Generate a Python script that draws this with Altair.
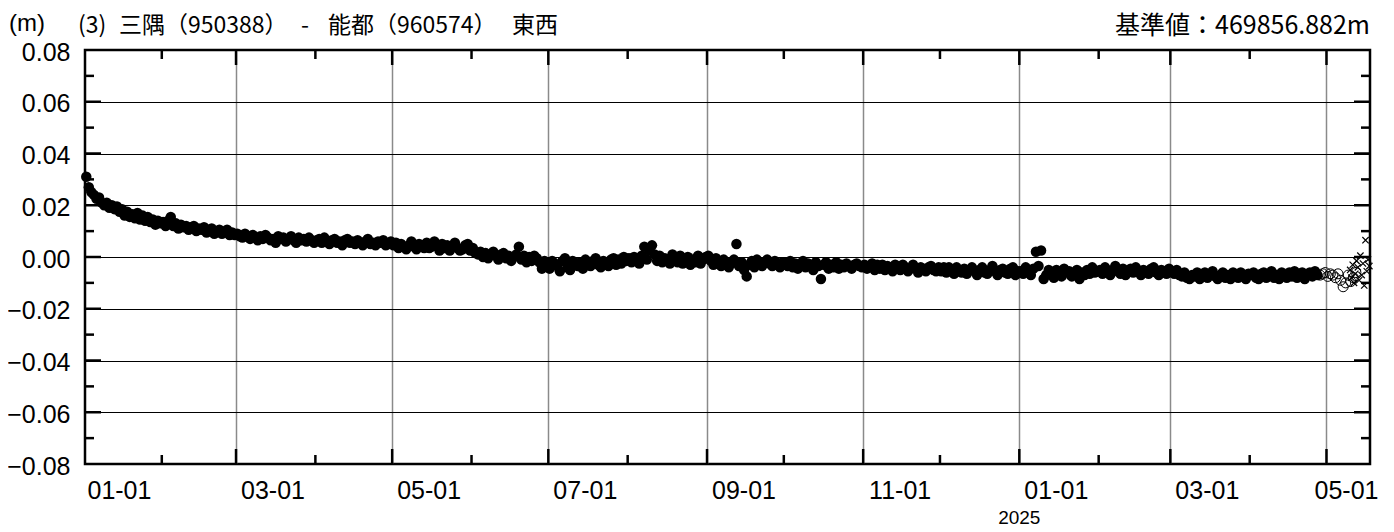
import altair as alt
import pandas as pd

# ---- daily values (mm), filled circles ----
jan24 = [31.0, 27.0, 25.0, 24.0, 22.5, 23.0, 21.0, 20.0, 21.0, 19.0, 20.0, 18.5, 19.5, 17.5, 18.5,
         16.0, 17.5, 15.5, 16.5, 15.0, 17.0, 14.5, 16.0, 14.0, 15.5, 13.5, 14.5, 12.5, 14.0, 13.0]
feb24 = [13.5, 12.0, 14.0, 15.5, 12.0, 13.0, 11.0, 12.5, 11.5, 12.0, 10.5, 11.5, 12.0, 10.0, 11.0,
         10.5, 11.5, 9.5, 10.5, 11.0, 9.0, 10.0, 10.5, 9.0, 9.5, 10.5, 8.5, 9.5, 8.5]
mar24 = [9.0, 8.0, 7.5, 9.0, 8.0, 7.0, 8.5, 7.5, 6.5, 8.0, 7.0, 8.5, 7.5, 6.5, 7.0, 5.5, 8.0, 7.0,
         7.5, 6.0, 7.0, 8.0, 6.5, 5.5, 7.5, 6.5, 7.0, 6.0, 7.5, 6.5, 5.5]
apr24 = [6.5, 7.0, 5.5, 7.5, 6.0, 5.0, 6.5, 7.0, 5.5, 6.0, 4.5, 6.5, 7.0, 5.5, 6.0, 5.0, 6.5, 5.5,
         4.5, 6.0, 7.0, 5.0, 5.5, 4.5, 6.0, 5.5, 6.5, 4.5, 5.0, 6.0]
may24 = [4.5, 5.5, 3.5, 5.0, 4.0, 3.0, 4.5, 6.0, 4.0, 3.0, 5.0, 4.5, 3.5, 5.5, 3.5, 4.0, 6.0, 4.5,
         2.5, 5.0, 3.5, 4.5, 2.5, 4.0, 5.5, 3.5, 2.5, 3.0, 4.5, 5.0, 2.5]
jun24 = [3.5, 1.5, 1.0, 2.0, 0.0, 1.5, -0.5, 1.0, 2.0, 0.5, -1.0, 1.0, 1.5, -0.5, 0.5, -1.5, 0.0,
         1.0, 4.0, -1.0, 0.5, -2.0, 0.0, -1.5, 0.5, -0.5, -2.0, -4.5, -1.5, -2.5]
jul24 = [-4.5, -1.5, -2.5, -3.5, -5.5, -1.5, -0.5, -4.0, -5.0, -1.5, -2.5, -3.5, -2.0, -4.5, -1.0,
         -3.0, -3.5, -1.5, -0.5, -3.0, -4.0, -1.5, -2.0, -3.5, -1.0, -0.5, -3.0, -1.0, -2.5, 0.0, -1.5]
aug24 = [-0.5, -2.0, 0.0, -1.5, -2.5, 0.5, 4.0, -1.0, 2.5, 4.5, 1.0, -1.5, 0.5, -2.0, -0.5, -1.5,
         -2.5, 1.0, -1.0, -2.0, 0.5, -2.5, -1.0, 0.0, -3.0, -1.0, -2.0, 0.5, -2.5, -1.0, 0.0]
sep24 = [0.5, -1.5, -3.0, -0.5, -2.5, -3.5, -1.0, -3.0, -4.0, -2.0, -1.0, 5.0, -3.5, -2.0, -5.0,
         -7.5, -3.0, -1.5, -4.0, -1.0, -2.5, -3.5, -2.0, -1.0, -2.5, -3.5, -1.5, -3.0, -4.0, -2.0]
oct24 = [-2.0, -3.5, -1.5, -4.0, -2.5, -4.5, -3.0, -1.5, -4.0, -2.5, -3.5, -5.0, -2.0, -3.5, -8.5,
         -3.0, -2.0, -4.5, -3.0, -4.0, -2.0, -4.5, -3.0, -4.0, -2.5, -3.5, -4.5, -3.0, -2.5, -3.5, -4.0]
nov24 = [-3.0, -4.5, -3.5, -2.5, -5.0, -3.0, -4.5, -3.0, -5.0, -3.5, -4.0, -5.5, -3.0, -4.5, -5.0,
         -3.0, -4.0, -5.5, -4.5, -3.0, -4.5, -6.0, -4.0, -4.5, -5.5, -4.0, -3.5, -5.0, -5.5, -4.0]
dec24 = [-5.5, -4.0, -6.0, -4.0, -5.0, -6.5, -4.0, -5.5, -6.0, -4.5, -6.5, -5.0, -4.0, -5.5, -7.0,
         -5.0, -4.0, -6.0, -6.5, -5.0, -3.5, -5.5, -7.0, -5.0, -4.5, -6.0, -6.5, -4.5, -4.0, -7.0, -5.5]
jan25 = [-5.5, -6.5, -4.0, -5.5, -7.0, -4.5, 2.0, -3.5, 2.5, -8.5, -7.0, -5.0, -6.5, -8.0, -5.0,
         -7.0, -7.5, -4.5, -6.0, -5.5, -7.5, -6.5, -5.0, -8.5, -6.0, -7.0, -5.0, -6.5, -4.0, -6.0, -5.5]
feb25 = [-5.0, -6.5, -4.0, -5.5, -7.0, -5.0, -3.5, -5.5, -6.5, -4.5, -7.0, -5.5, -4.5, -6.0, -4.0,
         -5.5, -7.0, -5.0, -5.5, -6.5, -4.5, -4.0, -6.0, -7.0, -5.0, -5.5, -6.5, -4.5]
mar25 = [-5.5, -6.5, -5.0, -7.0, -7.5, -6.0, -8.0, -8.5, -7.0, -7.5, -6.0, -8.5, -7.0, -6.0, -8.0,
         -7.0, -5.5, -7.5, -8.5, -7.0, -6.0, -8.0, -7.0, -8.5, -6.0, -7.0, -8.0, -6.0, -7.0, -8.5, -6.5]
apr25 = [-7.0, -6.0, -8.0, -8.5, -6.5, -6.0, -8.0, -7.0, -5.5, -8.0, -7.0, -8.5, -6.0, -7.0, -8.0,
         -6.0, -7.5, -5.5, -8.0, -6.5, -6.0, -8.5, -7.0, -6.0, -7.5, -5.5, -7.0]

filled_starts = ["2024-01-02", "2024-02-01", "2024-03-01", "2024-04-01", "2024-05-01", "2024-06-01",
                 "2024-07-01", "2024-08-01", "2024-09-01", "2024-10-01", "2024-11-01", "2024-12-01",
                 "2025-01-01", "2025-02-01", "2025-03-01", "2025-04-01"]
filled_series = [jan24, feb24, mar24, apr24, may24, jun24, jul24, aug24, sep24, oct24, nov24, dec24,
                 jan25, feb25, mar25, apr25]

# open circles (provisional), from 2025-04-28
open_start = "2025-04-28"
open_vals = [-7.0, -6.5, -6.0, -7.5, -6.5, -7.0, -8.0, -6.5, -9.0, -11.5, -10.0, -7.0, -9.5, -8.0, -6.0]

# crosses (rapid)
cross_dates = ["2025-05-10T06:00", "2025-05-10T18:00", "2025-05-11T06:00", "2025-05-11T18:00",
               "2025-05-12T06:00", "2025-05-12T18:00", "2025-05-13T06:00", "2025-05-13T18:00",
               "2025-05-14T06:00", "2025-05-14T18:00", "2025-05-15T06:00", "2025-05-15T18:00",
               "2025-05-16T06:00", "2025-05-16T18:00", "2025-05-17T06:00", "2025-05-17T18:00"]
cross_vals = [-5.0, -8.0, -3.0, -10.0, -6.5, -1.5, -4.0, -9.0, 0.5, -7.0, -2.5, -11.0, 6.5, -5.5, -1.0, -3.5]

# axis labels / ticks
xlabel_dates = ["2024-01-01", "2024-03-01", "2024-05-01", "2024-07-01", "2024-09-01", "2024-11-01",
                "2025-01-01", "2025-03-01"]
xlabel_texts = ["01-01", "03-01", "05-01", "07-01", "09-01", "11-01", "01-01", "03-01"]
xlabel_last_date = ["2025-05-01"]
xlabel_last_text = ["05-01"]
x_major = ["2024-03-01", "2024-05-01", "2024-07-01", "2024-09-01", "2024-11-01", "2025-01-01",
           "2025-03-01", "2025-05-01"]
x_minor = ["2024-02-01", "2024-04-01", "2024-06-01", "2024-08-01", "2024-10-01", "2024-12-01",
           "2025-02-01", "2025-04-01"]
y_values = [-0.08, -0.06, -0.04, -0.02, 0.0, 0.02, 0.04, 0.06, 0.08]
y_major = [-0.06, -0.04, -0.02, 0.0, 0.02, 0.04, 0.06]
y_minor = [-0.07, -0.05, -0.03, -0.01, 0.01, 0.03, 0.05, 0.07]

unit_label = "(m)"
title_parts = ["(3)", "三隅（950388）", "-", "能都（960574）", "東西"]
title_part_x = [-7, 34, 216, 243, 427]   # left edges, relative to plot area
ref_label = "基準値：469856.882m"

# ---- build tables ----
rows = []
for start, vals in zip(filled_starts, filled_series):
    d0 = pd.Timestamp(start) + pd.Timedelta(hours=12)
    for i, v in enumerate(vals):
        rows.append({"date": (d0 + pd.Timedelta(days=i)).strftime("%Y-%m-%dT%H:%M:%S"), "value": v / 1000})
df_filled = pd.DataFrame(rows)

d0 = pd.Timestamp(open_start) + pd.Timedelta(hours=12)
df_open = pd.DataFrame({"date": [(d0 + pd.Timedelta(days=i)).strftime("%Y-%m-%dT%H:%M:%S") for i in range(len(open_vals))],
                        "value": [v / 1000 for v in open_vals]})
df_cross = pd.DataFrame({"date": [d + ":00" for d in cross_dates], "value": [v / 1000 for v in cross_vals]})

W, H = 1285, 414

def dt(s):
    y, m, d = s.split("-")
    return alt.DateTime(year=int(y), month=int(m), date=int(d))

xscale = alt.Scale(domain=[dt("2024-01-02"), dt("2025-05-18")])
yscale = alt.Scale(domain=[-0.08, 0.08], nice=False, zero=False)

x_enc = alt.X("date:T", scale=xscale,
              axis=alt.Axis(values=[dt(s) for s in x_major], grid=True, gridColor="#8a8a8a", gridWidth=1.5,
                            labels=False, ticks=False, domain=False, title=None))
y_enc = alt.Y("value:Q", scale=yscale,
              axis=alt.Axis(values=y_values, format=".2f", grid=True, gridColor="black", gridWidth=1,
                            ticks=False, domain=False, labelFont="Liberation Sans", labelFontSize=25,
                            labelColor="black", labelPadding=15, labelOffset=2, title=None))

filled = alt.Chart(df_filled).mark_circle(size=110, color="black", opacity=1).encode(x=x_enc, y=y_enc)
opened = alt.Chart(df_open).mark_point(shape="circle", filled=False, size=100, color="black",
                                       strokeWidth=1, opacity=1).encode(
    x=alt.X("date:T", scale=xscale), y=alt.Y("value:Q", scale=yscale))
crosses = alt.Chart(df_cross).mark_point(shape="M-1,-1L1,1M-1,1L1,-1", filled=False, size=40,
                                         color="black", strokeWidth=1.2, opacity=1).encode(
    x=alt.X("date:T", scale=xscale), y=alt.Y("value:Q", scale=yscale))

def yticks(vals, xc, length):
    return alt.Chart(pd.DataFrame({"value": vals})).mark_tick(
        color="black", orient="horizontal", size=length, thickness=2.5, opacity=1).encode(
        y=alt.Y("value:Q", scale=yscale), x=alt.value(xc))

def xticks(dates, yc, length):
    return alt.Chart(pd.DataFrame({"date": dates})).mark_tick(
        color="black", orient="vertical", size=length, thickness=2.5, opacity=1).encode(
        x=alt.X("date:T", scale=xscale), y=alt.value(yc))

ticks = [
    yticks(y_major, 8, 16), yticks(y_minor, 4.5, 9),
    yticks(y_major, W - 8, 16), yticks(y_minor, W - 4.5, 9),
    xticks(x_major, H - 7.5, 15), xticks(x_minor, H - 4.5, 9),
    xticks(x_major, 7.5, 15), xticks(x_minor, 4.5, 9),
]

lab_font = "Liberation Sans"
xlabels = alt.Chart(pd.DataFrame({"date": xlabel_dates, "t": xlabel_texts})).mark_text(
    dx=37, fontSize=25, font=lab_font, color="black", baseline="middle", align="center").encode(
    x=alt.X("date:T", scale=xscale), y=alt.value(H + 27), text="t:N")
xlabel_last = alt.Chart(pd.DataFrame({"date": xlabel_last_date, "t": xlabel_last_text})).mark_text(
    dx=20, fontSize=25, font=lab_font, color="black", baseline="middle", align="center").encode(
    x=alt.X("date:T", scale=xscale), y=alt.value(H + 27), text="t:N")
year_label = alt.Chart(pd.DataFrame({"date": ["2025-01-01"], "t": ["2025"]})).mark_text(
    fontSize=19, font=lab_font, color="black", baseline="middle", align="center").encode(
    x=alt.X("date:T", scale=xscale), y=alt.value(H + 54), text="t:N")

unit_text = alt.Chart(pd.DataFrame({"t": [unit_label]})).mark_text(
    fontSize=24, font=lab_font, color="black", baseline="middle", align="left").encode(
    x=alt.value(-76), y=alt.value(-26), text="t:N")
title_text = alt.Chart(pd.DataFrame({"t": title_parts, "px": title_part_x})).mark_text(
    fontSize=23, font="Noto Sans CJK JP", color="black", baseline="middle", align="left").encode(
    x=alt.X("px:Q", scale=None), y=alt.value(-24), text="t:N")
ref_text = alt.Chart(pd.DataFrame({"t": [ref_label]})).mark_text(
    fontSize=25, font="Noto Sans CJK JP", color="black", baseline="middle", align="right").encode(
    x=alt.value(W), y=alt.value(-24), text="t:N")

chart = alt.layer(filled, opened, crosses, *ticks, xlabels, xlabel_last, year_label,
                  unit_text, title_text, ref_text).properties(
    width=W, height=H,
    autosize=alt.AutoSizeParams(type="none"),
    padding={"left": 77, "top": 42, "right": 16, "bottom": 68},
    background="white",
).configure_view(stroke="black", strokeWidth=2.5)

chart.save("out.html", embed_options={"renderer": "svg", "actions": False})
